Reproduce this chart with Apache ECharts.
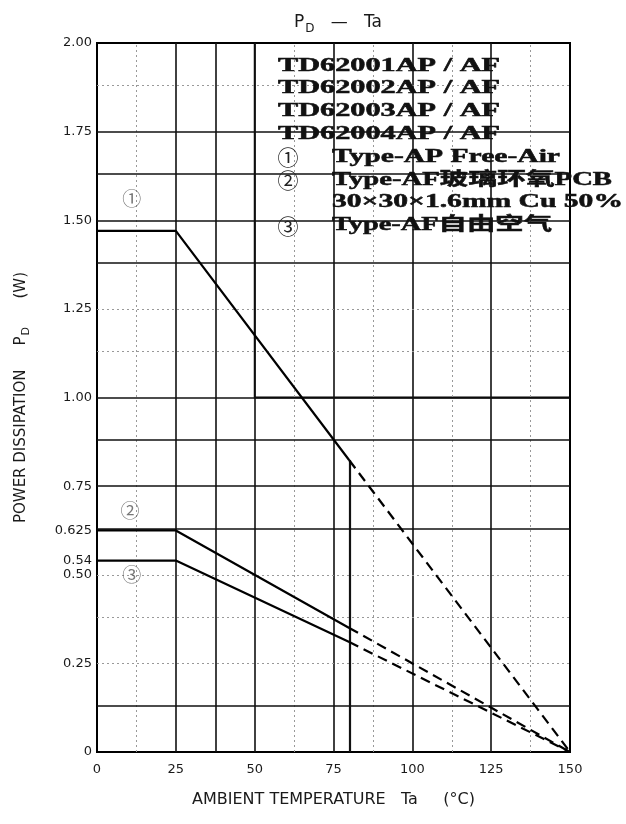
<!DOCTYPE html>
<html><head><meta charset="utf-8">
<script src="https://cdn.jsdelivr.net/npm/echarts@6/dist/echarts.min.js"></script>
<style>html,body{margin:0;padding:0;background:#fff}#c{width:626px;height:824px}</style>
</head><body><div id="c"></div><script>
// ---- data ----
const titleParts = ['P', 'D', '   —   Ta'];
const xAxisName = 'AMBIENT TEMPERATURE   Ta     (°C)';
const yNameParts = ['POWER DISSIPATION     P', 'D', '      (W)'];
const xTickValues = [0, 25, 50, 75, 100, 125, 150];
const yTickValues = [0, 0.25, 0.5, 0.54, 0.625, 0.75, 1, 1.25, 1.5, 1.75, 2];
const yTickLabels = ['0', '0.25', '0.50', '0.54', '0.625', '0.75', '1.00', '1.25', '1.50', '1.75', '2.00'];
const gridXMajor = [25, 37.5, 50, 75, 100, 125];
const gridXMinor = [12.5, 62.5, 87.5, 112.5, 137.5];
const gridYMajor = [0.125, 0.625, 0.75, 0.875, 1, 1.375, 1.5, 1.625, 1.75];
const gridYMinor = [0.25, 0.375, 0.5, 1.125, 1.25, 1.875];
const breakTemps = [0, 25, 80, 150];
const pdCurve1 = [1.47, 1.47, 0.823, 0];
const pdCurve2 = [0.625, 0.625, 0.35, 0];
const pdCurve3 = [0.54, 0.54, 0.31, 0];
const curveTags = ['①', '②', '③'];
const curveTagAt = [[11, 1.56], [10.5, 0.68], [11, 0.5]];
const boxCorners = [[50, 1], [150, 2]];
const deviceLines = ['TD62001AP / AF', 'TD62002AP / AF', 'TD62003AP / AF', 'TD62004AP / AF'];
const noteMarks = ['①', '②', '', '③'];
const noteLines = ['Type-AP Free-Air', 'Type-AF玻璃环氧PCB', '30×30×1.6mm Cu 50%', 'Type-AF自由空气'];

// ---- layout ----
const G = { left: 97, right: 56, top: 43, bottom: 72 };
const TXT = '#1a1a1a';
const sansFont = '"DejaVu Sans", "Noto Sans", sans-serif';
const boxFont = 'bold 18px "Liberation Serif", "Noto Sans CJK SC", serif';
const mctx = document.createElement('canvas').getContext('2d');
function measure(t, f) { mctx.font = f; return mctx.measureText(t).width; }

const graphics = [];
const devTop = 66, step = 22.8;
const boxTextStyle = (t) => ({ text: t, font: boxFont, fill: '#111', stroke: '#111', lineWidth: 0.5, textAlign: 'left', textVerticalAlign: 'middle' });
deviceLines.forEach((t, i) => {
  const w = measure(t, boxFont);
  graphics.push({ type: 'text', x: 278, y: devTop + i * step, scaleX: 222 / w, z: 100, style: boxTextStyle(t) });
});
const noteEnds = [560, 612, 623, 552];
noteLines.forEach((t, i) => {
  const y = devTop + (i + 4) * step;
  const w = measure(t, boxFont);
  graphics.push({ type: 'text', x: 332, y: y, scaleX: (noteEnds[i] - 332) / w, z: 100, style: boxTextStyle(t) });
  if (noteMarks[i]) graphics.push({ type: 'text', x: 288, y: y, z: 100,
    style: { text: noteMarks[i], font: '21px "Noto Sans CJK SC", sans-serif', fill: '#222', textAlign: 'center', textVerticalAlign: 'middle' } });
});

const darkLine = { color: '#111', width: 1.6, type: 'solid' };
const lightLine = { color: '#999', width: 1, type: [2, 3] };
const gridMarks = []
  .concat(gridXMajor.map(v => ({ xAxis: v, lineStyle: darkLine })))
  .concat(gridXMinor.map(v => ({ xAxis: v, lineStyle: lightLine })))
  .concat(gridYMajor.map(v => ({ yAxis: v, lineStyle: darkLine })))
  .concat(gridYMinor.map(v => ({ yAxis: v, lineStyle: lightLine })));
gridMarks.push([{ coord: [breakTemps[2], 0], lineStyle: { color: '#111', width: 2.2, type: 'solid' } }, { coord: [breakTemps[2], pdCurve1[2]] }]);

function seg(pd, a, b) { return breakTemps.slice(a, b + 1).map((t, i) => [t, pd[a + i]]); }
const curveSeries = [];
[pdCurve1, pdCurve2, pdCurve3].forEach((pd, k) => {
  curveSeries.push({ type: 'line', name: curveTags[k] + 's', data: seg(pd, 0, 2), symbol: 'none', z: 6,
    lineStyle: { color: '#000', width: 2.2 }, animation: false });
  curveSeries.push({ type: 'line', name: curveTags[k] + 'd', data: seg(pd, 2, 3), symbol: 'none', z: 6,
    lineStyle: { color: '#000', width: 2.2, type: [10, 6] }, animation: false });
});

const chart = echarts.init(document.getElementById('c'), null, { renderer: 'canvas' });
chart.setOption({
  animation: false,
  backgroundColor: '#fff',
  title: {
    text: '{a|' + titleParts[0] + '}{s|' + titleParts[1] + '}{a|' + titleParts[2] + '}',
    left: 333, top: 4, textAlign: 'center',
    textStyle: { fontWeight: 'normal', rich: {
      a: { fontFamily: sansFont, fontWeight: 'normal', fontSize: 17, color: TXT, lineHeight: 22, verticalAlign: 'bottom' },
      s: { fontFamily: sansFont, fontWeight: 'normal', fontSize: 12, color: TXT, lineHeight: 22, verticalAlign: 'bottom', padding: [0, 0, -4, 1] }
    } }
  },
  grid: { left: G.left, right: G.right, top: G.top, bottom: G.bottom, show: true, borderColor: '#000', borderWidth: 2, backgroundColor: 'transparent', z: 5 },
  xAxis: {
    type: 'value', min: 0, max: 150, interval: 25,
    name: xAxisName, nameLocation: 'middle', nameGap: 40,
    nameTextStyle: { fontFamily: sansFont, fontSize: 16, color: TXT },
    axisLine: { show: false }, axisTick: { show: false }, splitLine: { show: false },
    axisLabel: { fontFamily: sansFont, fontSize: 13, color: TXT, margin: 11 }
  },
  yAxis: {
    type: 'value', min: 0, max: 2, interval: 0.25,
    name: '{a|' + yNameParts[0] + '}{s|' + yNameParts[1] + '}{a|' + yNameParts[2] + '}',
    nameLocation: 'middle', nameGap: 68, nameRotate: 90,
    nameTextStyle: { rich: {
      a: { fontFamily: sansFont, fontSize: 15, color: TXT, lineHeight: 18, verticalAlign: 'bottom' },
      s: { fontFamily: sansFont, fontSize: 11, color: TXT, lineHeight: 18, verticalAlign: 'bottom', padding: [0, 0, -3, 1] }
    } },
    axisLine: { show: false }, axisTick: { show: false }, splitLine: { show: false },
    axisLabel: {
      customValues: yTickValues, fontFamily: sansFont, fontSize: 13, color: TXT, margin: 5,
      formatter: v => { const i = yTickValues.findIndex(t => Math.abs(t - v) < 1e-9); return i >= 0 ? yTickLabels[i] : ''; }
    }
  },
  series: [
    { type: 'line', name: 'gridlines', data: [], z: 1, silent: true,
      markLine: { symbol: 'none', silent: true, animation: false, label: { show: false }, data: gridMarks } },
    { type: 'line', name: 'box', data: [], z: 3, silent: true,
      markArea: { silent: true, animation: false, label: { show: false },
        itemStyle: { color: '#fff', borderColor: '#000', borderWidth: 1.8, opacity: 1 },
        data: [[{ coord: boxCorners[0] }, { coord: boxCorners[1] }]] } },
    ...curveSeries,
    { type: 'scatter', name: 'tags', symbolSize: 1, z: 7, itemStyle: { color: 'transparent' },
      data: curveTagAt.map((p, i) => ({ value: p, name: curveTags[i] })),
      label: { show: true, position: 'inside', formatter: p => p.name, fontFamily: '"Noto Sans CJK SC", sans-serif', fontSize: 19, color: '#555' } }
  ],
  graphic: graphics
});
</script></body></html>
